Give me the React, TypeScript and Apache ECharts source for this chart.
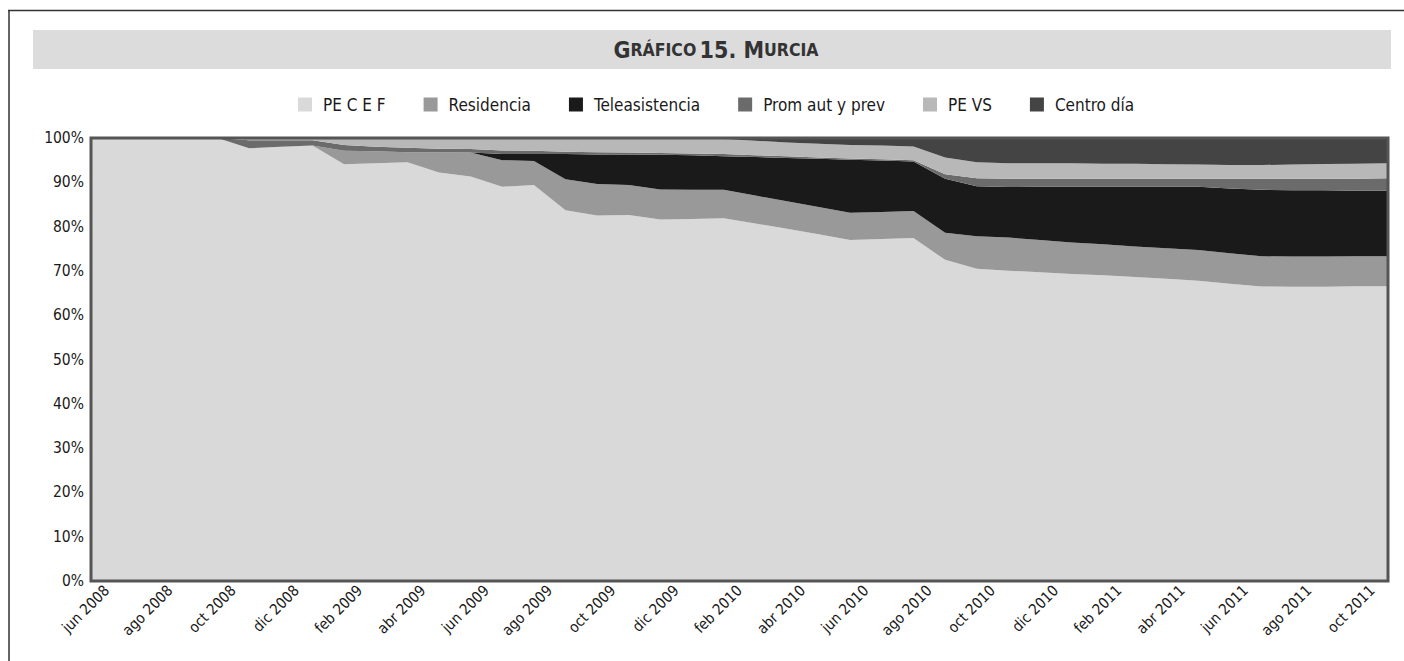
import React, { useEffect, useRef } from 'react';
import * as echarts from 'echarts';

const FONT = "'Liberation Sans Narrow', 'DejaVu Sans Condensed', 'Roboto Condensed', sans-serif";

// Month labels (category axis, shown every other month)
const months = [
  'jun 2008', 'jul 2008', 'ago 2008', 'sep 2008', 'oct 2008', 'nov 2008', 'dic 2008',
  'ene 2009', 'feb 2009', 'mar 2009', 'abr 2009', 'may 2009', 'jun 2009', 'jul 2009',
  'ago 2009', 'sep 2009', 'oct 2009', 'nov 2009', 'dic 2009', 'ene 2010', 'feb 2010',
  'mar 2010', 'abr 2010', 'may 2010', 'jun 2010', 'jul 2010', 'ago 2010', 'sep 2010',
  'oct 2010', 'nov 2010', 'dic 2010', 'ene 2011', 'feb 2011', 'mar 2011', 'abr 2011',
  'may 2011', 'jun 2011', 'jul 2011', 'ago 2011', 'sep 2011', 'oct 2011',
];

// Sample points of the area (month boundaries)
const pointLabels = [
  '1 jun 2008', '1 jul 2008', '1 ago 2008', '1 sep 2008', '1 oct 2008', '1 nov 2008', '1 dic 2008',
  '1 ene 2009', '1 feb 2009', '1 mar 2009', '1 abr 2009', '1 may 2009', '1 jun 2009', '1 jul 2009',
  '1 ago 2009', '1 sep 2009', '1 oct 2009', '1 nov 2009', '1 dic 2009', '1 ene 2010', '1 feb 2010',
  '1 mar 2010', '1 abr 2010', '1 may 2010', '1 jun 2010', '1 jul 2010', '1 ago 2010', '1 sep 2010',
  '1 oct 2010', '1 nov 2010', '1 dic 2010', '1 ene 2011', '1 feb 2011', '1 mar 2011', '1 abr 2011',
  '1 may 2011', '1 jun 2011', '1 jul 2011', '1 ago 2011', '1 sep 2011', '1 oct 2011', '1 nov 2011',
];

const peCEF = [100, 100, 100, 100, 100, 97.7, 98.0, 98.3, 94.1, 94.3, 94.5, 92.2, 91.3, 89.0, 89.4,
  83.7, 82.5, 82.6, 81.6, 81.8, 81.9, 80.7, 79.5, 78.3, 77.0,
  77.2, 77.4, 72.5, 70.5, 70.1, 69.7, 69.3, 69.0, 68.6, 68.2,
  67.8, 67.1, 66.5, 66.5, 66.5, 66.6, 66.6];
const residencia = [0, 0, 0, 0, 0, 0, 0, 0, 3.0, 2.7, 2.3, 4.6, 5.4, 6.0, 5.4,
  7.0, 7.1, 6.8, 6.8, 6.6, 6.4, 6.3, 6.2, 6.1, 6.1,
  6.1, 6.1, 6.1, 7.3, 7.5, 7.3, 7.1, 7.0, 6.9, 6.9,
  6.9, 6.9, 6.8, 6.8, 6.8, 6.8, 6.8];
const teleasistencia = [0, 0, 0, 0, 0, 0, 0, 0, 0, 0, 0, 0, 0, 1.4, 1.6,
  5.7, 6.7, 6.9, 7.8, 7.8, 7.6, 8.7, 9.8, 10.9, 12.0,
  11.6, 11.2, 12.2, 11.3, 11.4, 12.0, 12.6, 13.0, 13.5, 13.9,
  14.3, 14.6, 15.0, 15.0, 15.0, 14.8, 14.8];
const promAut = [0, 0, 0, 0, 0, 1.8, 1.5, 1.2, 1.3, 1.0, 1.0, 0.8, 0.8, 0.8, 0.7,
  0.5, 0.5, 0.4, 0.4, 0.4, 0.5, 0.4, 0.4, 0.3, 0.3,
  0.3, 0.3, 1.0, 1.8, 1.9, 1.8, 1.8, 1.8, 1.8, 1.8,
  1.8, 2.2, 2.5, 2.6, 2.6, 2.7, 2.8];
const peVS = [0, 0, 0, 0, 0, 0.5, 0.5, 0.5, 1.6, 2.0, 2.2, 2.4, 2.5, 2.8, 2.9,
  3.1, 3.2, 3.3, 3.4, 3.5, 3.4, 3.3, 3.1, 3.1, 3.0,
  3.1, 3.1, 3.8, 3.6, 3.5, 3.5, 3.5, 3.4, 3.4, 3.3,
  3.2, 3.1, 3.1, 3.2, 3.3, 3.4, 3.4];
const centroDia = [0, 0, 0, 0, 0, 0, 0, 0, 0, 0, 0, 0, 0, 0, 0, 0, 0, 0, 0, 0,
  0.2, 0.6, 1.0, 1.3, 1.6,
  1.7, 1.9, 4.4, 5.5, 5.7, 5.7, 5.7, 5.8, 5.8, 5.9,
  6.0, 6.1, 6.1, 6.0, 5.9, 5.8, 5.7];

const seriesNames = ['PE C E F', 'Residencia', 'Teleasistencia', 'Prom aut y prev', 'PE VS', 'Centro día'];
const seriesValues = [peCEF, residencia, teleasistencia, promAut, peVS, centroDia];
const seriesColors = ['#d9d9d9', '#999999', '#1a1a1a', '#6b6b6b', '#b8b8b8', '#444444'];

const yTicks = [0, 10, 20, 30, 40, 50, 60, 70, 80, 90, 100];

export default function App() {
  const ref = useRef<HTMLDivElement>(null);

  useEffect(() => {
    if (!ref.current) return;
    const chart = echarts.init(ref.current, null, { renderer: 'svg' });
    const totals = pointLabels.map((_, i) => seriesValues.reduce((s, arr) => s + arr[i], 0));

    const series = seriesNames.map((name, si) => ({
      name,
      type: 'line',
      stack: 'total',
      xAxisIndex: 1,
      symbol: 'none',
      silent: true,
      color: seriesColors[si],
      lineStyle: { width: 0 },
      itemStyle: { color: seriesColors[si] },
      areaStyle: { color: seriesColors[si], opacity: 1 },
      data: seriesValues[si].map((v, i) => +((v / totals[i]) * 100).toFixed(4)),
    }));

    chart.setOption({
      animation: false,
      backgroundColor: '#ffffff',
      grid: {
        left: 91, right: 16, top: 138, bottom: 80,
        show: true, z: 10, backgroundColor: 'transparent',
        borderColor: '#555555', borderWidth: 3,
      },
      legend: {
        data: seriesNames,
        icon: 'rect',
        itemWidth: 14,
        itemHeight: 14,
        itemGap: 38,
        left: 293,
        top: 91,
        selectedMode: false,
        textStyle: { fontFamily: FONT, fontSize: 17, color: '#1a1a1a', padding: [0, 0, 0, 6] },
      },
      xAxis: [
        {
          type: 'category',
          data: months,
          boundaryGap: true,
          axisLine: { show: false },
          axisTick: { show: false },
          splitLine: { show: false },
          axisLabel: {
            interval: 1, rotate: 45, margin: 7,
            fontFamily: FONT, fontSize: 15, color: '#1a1a1a',
          },
        },
        {
          type: 'category',
          data: pointLabels,
          boundaryGap: false,
          show: false,
        },
      ],
      yAxis: {
        type: 'value',
        min: yTicks[0],
        max: yTicks[yTicks.length - 1],
        interval: 10,
        axisLine: { show: false },
        axisTick: { show: false },
        splitLine: { show: false },
        axisLabel: {
          formatter: '{value}%', margin: 7,
          fontFamily: FONT, fontSize: 15.5, color: '#1a1a1a',
        },
      },
      graphic: [
        { type: 'line', shape: { x1: 8, y1: 10.5, x2: 1404, y2: 10.5 }, style: { stroke: '#333333', lineWidth: 1.5 } },
        { type: 'line', shape: { x1: 9, y1: 10, x2: 9, y2: 661 }, style: { stroke: '#333333', lineWidth: 1.5 } },
        { type: 'rect', shape: { x: 33, y: 30, width: 1358, height: 39 }, style: { fill: '#dcdcdc' } },
        {
          type: 'text', x: 716, y: 50,
          style: {
            text: '{a|G}{b|RÁFICO} {a|15. M}{b|URCIA}',
            align: 'center', verticalAlign: 'middle',
            rich: {
              a: { fontFamily: FONT, fontSize: 23, fontWeight: 'bold', fill: '#333333', color: '#333333' },
              b: { fontFamily: FONT, fontSize: 17.5, fontWeight: 'bold', fill: '#333333', color: '#333333' },
            },
          },
        },
      ],
      series,
    });

    return () => chart.dispose();
  }, []);

  return <div ref={ref} style={{ position: 'fixed', left: 0, top: 0, width: 1404, height: 661 }} />;
}
